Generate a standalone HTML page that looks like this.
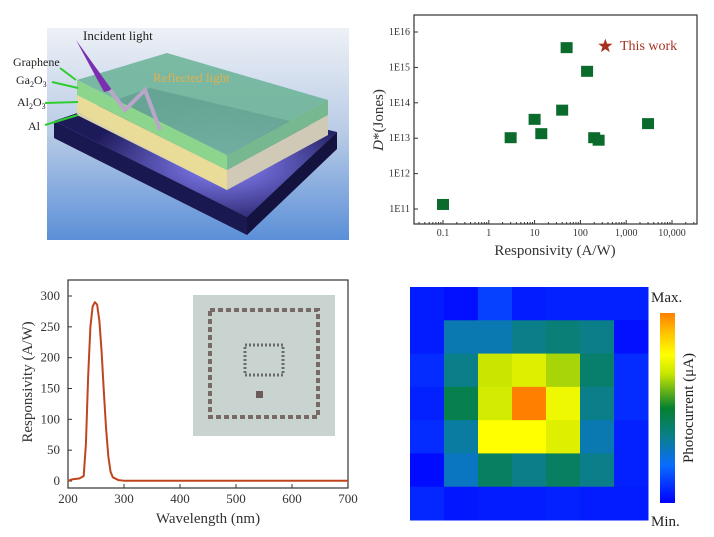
<!DOCTYPE html>
<html><head><meta charset="utf-8"><style>
body{margin:0;background:#fff;}
svg{display:block;font-family:"Liberation Serif",serif;}
</style></head><body>
<svg id="fig" width="714" height="537" viewBox="0 0 714 537">
<defs>
<linearGradient id="bg" x1="0" y1="0" x2="0" y2="1"><stop offset="0" stop-color="#eef1f6"/><stop offset="0.5" stop-color="#b8cbe6"/><stop offset="1" stop-color="#5b8fd8"/></linearGradient>
<radialGradient id="glow" cx="0.6" cy="0.6" r="0.5"><stop offset="0" stop-color="#8c86ff"/><stop offset="1" stop-color="#1d1a5a"/></radialGradient>
<linearGradient id="cbar" x1="0" y1="1" x2="0" y2="0">
<stop offset="0" stop-color="#0000ff"/><stop offset="0.2" stop-color="#0a6cff"/><stop offset="0.35" stop-color="#0a7f8a"/><stop offset="0.5" stop-color="#058030"/><stop offset="0.68" stop-color="#c8e600"/><stop offset="0.78" stop-color="#ffff00"/><stop offset="0.9" stop-color="#ffc000"/><stop offset="1" stop-color="#ff8000"/></linearGradient>
</defs>

<g>
<rect x="47" y="28" width="302" height="212" fill="url(#bg)"/>
<polygon points="54,121 150,88 337,132 247,217" fill="url(#glow)"/>
<polygon points="54,121 247,217 247,235 54,138" fill="#1a1850"/>
<polygon points="247,217 337,132 337,149 247,235" fill="#14123e"/>
<polygon points="77,112 227,187 227,190 77,115" fill="#d8d2b0"/>
<polygon points="77,95 227,170 227,190 77,112" fill="#e8dc98"/>
<polygon points="227,170 328,115 328,135 227,190" fill="#cfc9b5"/>
<polygon points="77,80 167,53 328,100 227,155" fill="#6fb59a" opacity="0.9"/>
<polygon points="77,80 227,155 227,170 77,95" fill="#8cd58c"/>
<polygon points="227,155 328,100 328,115 227,170" fill="#78b890"/>
<polygon points="76,40 112,90 104,92" fill="#7a2fb0"/>
<polyline points="110,90 125,110 145,90 160,130" fill="none" stroke="#b9a6c8" stroke-width="4"/>
<text x="83" y="40" font-size="13" fill="#222">Incident light</text>
<text x="153" y="82" font-size="13" fill="#e0b050">Reflected light</text>
<text x="13" y="66" font-size="12" fill="#222">Graphene</text>
<text x="16" y="84" font-size="12" fill="#222">Ga<tspan font-size="8" dy="3">2</tspan><tspan dy="-3">O</tspan><tspan font-size="8" dy="3">3</tspan></text>
<text x="17" y="106" font-size="12" fill="#222">Al<tspan font-size="8" dy="3">2</tspan><tspan dy="-3">O</tspan><tspan font-size="8" dy="3">3</tspan></text>
<text x="28" y="130" font-size="12" fill="#222">Al</text>
<g stroke="#2ecc2e" stroke-width="2">
<line x1="60" y1="68" x2="76" y2="80"/><line x1="52" y1="82" x2="78" y2="88"/><line x1="45" y1="103" x2="78" y2="102"/><line x1="45" y1="125" x2="78" y2="115"/></g>
</g>

<g id="scatter"></g>
<g id="spectrum"></g>
<g id="heat"></g>
</svg>
<script>
const respX = [0.1, 3, 10, 14, 40, 50, 140, 200, 250, 3000];
const detY = [1.3e11, 1e13, 3.3e13, 1.3e13, 6e13, 3.5e15, 7.5e14, 1e13, 8.5e12, 2.5e13];
const thisWorkX = [350];
const thisWorkY = [4e15];
const scatterXTicks = [0.1, 1, 10, 100, 1000, 10000];
const scatterXTickLabels = ["0.1", "1", "10", "100", "1,000", "10,000"];
const scatterYTicks = [1e11, 1e12, 1e13, 1e14, 1e15, 1e16];
const scatterYTickLabels = ["1E11", "1E12", "1E13", "1E14", "1E15", "1E16"];
const waveNm = [200,205,210,220,228,232,236,240,244,248,252,256,260,264,268,272,276,280,290,300,350,400,500,600,700,715];
const respAW = [0,2,3,4,8,60,170,250,283,290,286,260,210,145,85,40,15,6,1.5,0.5,0.5,0.5,0.5,0.5,0.5,0.5];
const specXTicks = [200,300,400,500,600,700];
const specYTicks = [0,50,100,150,200,250,300];
const heatRows = [
 [0.05,0.03,0.12,0.05,0.06,0.06,0.06],
 [0.05,0.30,0.30,0.35,0.38,0.35,0.03],
 [0.08,0.35,0.68,0.72,0.65,0.40,0.08],
 [0.06,0.45,0.70,1.00,0.75,0.35,0.08],
 [0.08,0.32,0.78,0.78,0.72,0.30,0.06],
 [0.02,0.28,0.42,0.35,0.42,0.35,0.06],
 [0.07,0.04,0.05,0.05,0.06,0.05,0.05]
];

const NS="http://www.w3.org/2000/svg";
function mk(parent,tag,attrs,txt){const e=document.createElementNS(NS,tag);for(const k in attrs)e.setAttribute(k,attrs[k]);if(txt!==undefined)e.textContent=txt;parent.appendChild(e);return e;}

(function(){
 const g=document.getElementById('scatter');
 const x0=414,x1=697,y0=15,y1=224;
 const sx=v=>443+(Math.log10(v)+1)*45.8;
 const sy=v=>209-(Math.log10(v)-11)*35.4;
 const fr=mk(g,'rect',{x:x0,y:y0,width:x1-x0,height:y1-y0,fill:'none',stroke:'#333','stroke-width':1.2});
 
 
 for(let d=-2;d<5;d++)for(let m=2;m<10;m++){const v=m*Math.pow(10,d),x=sx(v);if(x>x0&&x<x1)mk(g,'line',{x1:x,x2:x,y1:y1,y2:y1-2,stroke:'#333'});}
 scatterXTicks.forEach((t,i)=>{
  mk(g,'line',{x1:sx(t),x2:sx(t),y1:y1,y2:y1-4,stroke:'#333'});
  const tx=mk(g,'text',{x:sx(t),y:236,'font-size':10,'text-anchor':'middle',fill:'#333'},scatterXTickLabels[i]);
  
  
 });
 scatterYTicks.forEach((t,i)=>{
  mk(g,'line',{x1:x0,x2:x0+4,y1:sy(t),y2:sy(t),stroke:'#333'});
  const tx=mk(g,'text',{x:410,y:sy(t)+3,'font-size':10,'text-anchor':'end',fill:'#333'},scatterYTickLabels[i]);
  
  
 });
 const xl=mk(g,'text',{x:555,y:255,'font-size':15,'text-anchor':'middle',fill:'#333'},'Responsivity (A/W)');
 
 
 const yl=mk(g,'text',{x:0,y:0,'font-size':15,'text-anchor':'middle',fill:'#333',transform:'translate(383,120) rotate(-90)'});
 yl.innerHTML='<tspan font-style="italic">D</tspan>*(Jones)';
 
 
 respX.forEach((v,i)=>{
  const r=mk(g,'rect',{x:sx(v)-6,y:sy(detY[i])-6,width:12,height:11,fill:'#0b6b2c'});
  
  
 });
 thisWorkX.forEach((v,i)=>{
  const cx=sx(v),cy=sy(thisWorkY[i]);let p='';
  for(let k=0;k<10;k++){const a=-Math.PI/2+k*Math.PI/5,r=k%2?3:7.5;p+=(cx+r*Math.cos(a))+','+(cy+r*Math.sin(a))+' ';}
  const s=mk(g,'polygon',{points:p,fill:'#a8301e'});
  
  
 });
 const lt=mk(g,'text',{x:620,y:50,'font-size':14,fill:'#a8301e'},'This work');
 
 
})();

(function(){
 const g=document.getElementById('spectrum');
 const x0=68,x1=348,y0=280,y1=488;
 const sx=v=>x0+(v-200)/500*280;
 const sy=v=>481-v*(185/300);
 const fr=mk(g,'rect',{x:x0,y:y0,width:x1-x0,height:y1-y0,fill:'none',stroke:'#333','stroke-width':1.2});
 
 
 const ins=mk(g,'rect',{x:193,y:295,width:142,height:141,fill:'#c9d4d0'});
 
 
 mk(g,'rect',{x:210,y:310,width:108,height:107,fill:'none',stroke:'#7a6a66','stroke-width':4,'stroke-dasharray':'5,3'});
 mk(g,'rect',{x:245,y:345,width:38,height:30,fill:'none',stroke:'#6a6a6a','stroke-width':3,'stroke-dasharray':'2,2'});
 mk(g,'rect',{x:256,y:391,width:7,height:7,fill:'#6a5a58'});
 specXTicks.forEach(t=>{
  mk(g,'line',{x1:sx(t),x2:sx(t),y1:y1,y2:y1-4,stroke:'#333'});
  const tx=mk(g,'text',{x:sx(t),y:503,'font-size':13,'text-anchor':'middle',fill:'#333'},String(t));
  
  
 });
 specYTicks.forEach(t=>{
  mk(g,'line',{x1:x0,x2:x0+4,y1:sy(t),y2:sy(t),stroke:'#333'});
  const tx=mk(g,'text',{x:60,y:sy(t)+4,'font-size':13,'text-anchor':'end',fill:'#333'},String(t));
  
  
 });
 const xl=mk(g,'text',{x:208,y:523,'font-size':15,'text-anchor':'middle',fill:'#333'},'Wavelength (nm)');
 
 
 const yl=mk(g,'text',{x:0,y:0,'font-size':15,'text-anchor':'middle',fill:'#333',transform:'translate(32,382) rotate(-90)'},'Responsivity (A/W)');
 
 
 const pts=waveNm.map((w,i)=>Math.min(sx(w),x1)+','+sy(respAW[i])).join(' ');
 const pl=mk(g,'polyline',{points:pts,fill:'none',stroke:'#c0451f','stroke-width':2,'stroke-linejoin':'round'});
 
 
})();

(function(){
 const g=document.getElementById('heat');
 const stops=[[0,[0,0,255]],[0.2,[10,108,255]],[0.35,[10,127,138]],[0.5,[5,128,48]],[0.68,[200,230,0]],[0.78,[255,255,0]],[0.9,[255,192,0]],[1,[255,128,0]]];
 function col(v){for(let i=1;i<stops.length;i++){if(v<=stops[i][0]){const a=stops[i-1],b=stops[i],t=(v-a[0])/(b[0]-a[0]);return 'rgb('+a[1].map((c,k)=>Math.round(c+(b[1][k]-c)*t)).join(',')+')';}}return 'rgb(255,128,0)';}
 const x0=410,y0=287,cw=(648-410)/7,ch=(520-287)/7;
 heatRows.forEach((row,r)=>row.forEach((v,c)=>{
  const e=mk(g,'rect',{x:x0+c*cw,y:y0+r*ch,width:cw+0.5,height:ch+0.5,fill:col(v)});
  
  
 }));
 const cb=mk(g,'rect',{x:660,y:313,width:15,height:190,fill:'url(#cbar)'});
 
 
 const mx=mk(g,'text',{x:651,y:302,'font-size':15,fill:'#222'},'Max.');
 
 
 const mn=mk(g,'text',{x:651,y:526,'font-size':15,fill:'#222'},'Min.');
 
 
 const t=mk(g,'text',{x:0,y:0,'font-size':15,'text-anchor':'middle',fill:'#222',transform:'translate(693,408) rotate(-90)'},'Photocurrent (μA)');
 
 
})();
</script>
</body></html>
